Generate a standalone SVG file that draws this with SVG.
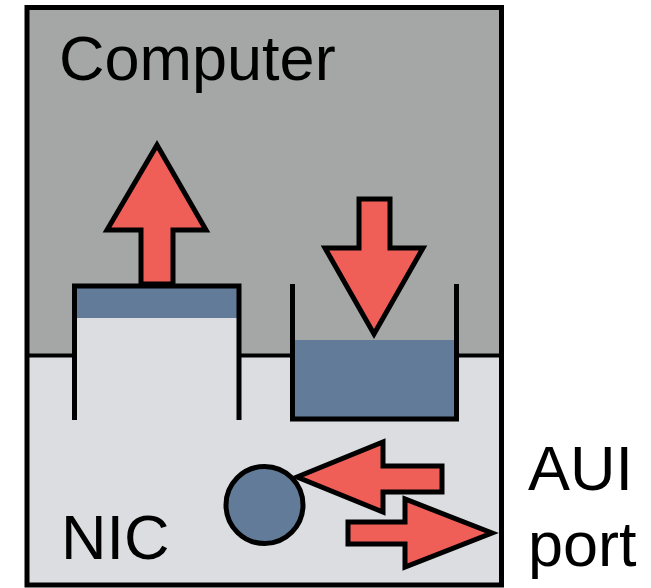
<svg xmlns="http://www.w3.org/2000/svg" width="651" height="588" viewBox="0 0 651 588">
  <style>
    .ln{fill:none;stroke:#000;stroke-width:5;stroke-linejoin:miter}
    .arrow{fill:#ef5f57;stroke:#000;stroke-width:5;stroke-linejoin:miter}
    .blue{fill:#617b98}
    .txt{font-family:"Liberation Sans",Arial,sans-serif;font-size:63px;fill:#000}
  </style>
  <g id="computer">
    <rect x="27" y="7.5" width="474.5" height="348" fill="#a4a7a5"/>
  </g>
  <g id="nic">
    <rect x="27" y="355.5" width="474.5" height="229.5" fill="#dcdde0"/>
  </g>
  <line x1="27" y1="355.5" x2="501.5" y2="355.5" stroke="#000" stroke-width="4"/>
  <rect x="27" y="7.5" width="474.5" height="577.5" class="ln"/>
  <g id="out-buffer">
    <rect x="74.5" y="286" width="164.5" height="134" fill="#dcdde0"/>
    <rect x="74.5" y="286" width="164.5" height="32" class="blue"/>
    <path d="M74.5 420 V286 H239 V420" class="ln"/>
  </g>
  <g id="in-buffer">
    <rect x="292.5" y="340" width="164" height="79" class="blue"/>
    <path d="M292.5 284 V419 H456.5 V284" class="ln"/>
  </g>
  <g id="aui-port">
    <circle cx="264.5" cy="505" r="38.5" class="blue" stroke="#000" stroke-width="5"/>
  </g>
  <g id="connectors">
    <polygon class="arrow" points="157,145 206,230 173,230 173,284 141,284 141,230 107,230"/>
    <polygon class="arrow" points="359,199 390,199 390,248 423,248 374,334 325,248 359,248"/>
    <polygon class="arrow" points="297,477 383,442 383,466 442,466 442,492 383,492 383,512"/>
    <polygon class="arrow" points="348,522 405,522 405,499 492,533 405,567 405,544 348,544"/>
  </g>
  <text x="59" y="80" class="txt">Computer</text>
  <text x="61" y="559" class="txt">NIC</text>
  <text x="528" y="490" class="txt">AUI</text>
  <text x="528" y="566" class="txt">port</text>
</svg>
